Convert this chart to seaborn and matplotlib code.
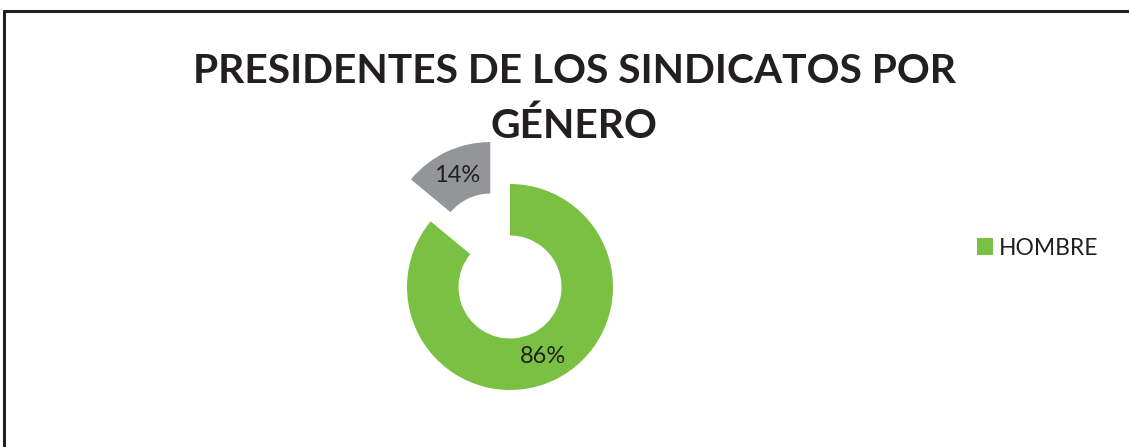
import matplotlib
matplotlib.use("Agg")
import matplotlib.pyplot as plt
import seaborn as sns
from matplotlib.lines import Line2D

categories = ["HOMBRE", "MUJER"]
values = [86, 14]
colors = ["#7AC143", "#939598"]
title_lines = ["PRESIDENTES DE LOS SINDICATOS POR", "GÉNERO"]

sns.set_theme(style="white")
plt.rcParams['font.family'] = ['Lato', 'DejaVu Sans']

W, H = 1129, 447
fig = plt.figure(figsize=(W/100, H/100), dpi=100)
fig.patch.set_facecolor("white")

# border: only top and left edges are visible in the cropped reference
fig.add_artist(Line2D([4/W, 1.05], [1 - 11/H, 1 - 11/H], transform=fig.transFigure,
                      color="#231F20", linewidth=2.2))
fig.add_artist(Line2D([4/W, 4/W], [-0.05, 1 - 11/H], transform=fig.transFigure,
                      color="#231F20", linewidth=2.2))

R = 103
cx, cy = 510, H - 287
half = 1.5 * R
ax = fig.add_axes([(cx - half)/W, (cy - half)/H, 2*half/W, 2*half/H])
wedges, texts, autotexts = ax.pie(values, colors=colors, startangle=90, counterclock=False,
                                  explode=[0, 0.45], radius=1,
                                  wedgeprops=dict(width=0.5, edgecolor="none"),
                                  autopct=lambda p: f"{p:.0f}%", pctdistance=0.75,
                                  textprops=dict(fontsize=17, color="#231F20"))
ax.set_xlim(-1.5, 1.5)
ax.set_ylim(-1.5, 1.5)
ax.axis("off")

fig.text(574/W, 1 - 83/H, title_lines[0], ha="center", va="baseline",
         fontsize=29.3, fontweight="bold", color="#231F20")
fig.text(574/W, 1 - 138/H, title_lines[1], ha="center", va="baseline",
         fontsize=29.3, fontweight="bold", color="#231F20")

fig.legend([wedges[0]], [categories[0]], loc="center left",
           bbox_to_anchor=(956/W, 1 - 248/H), frameon=False,
           handlelength=0.7, handleheight=0.7, handletextpad=0.25,
           prop=dict(size=16.5), labelcolor="#231F20")

fig.savefig("out.png", dpi=100)
